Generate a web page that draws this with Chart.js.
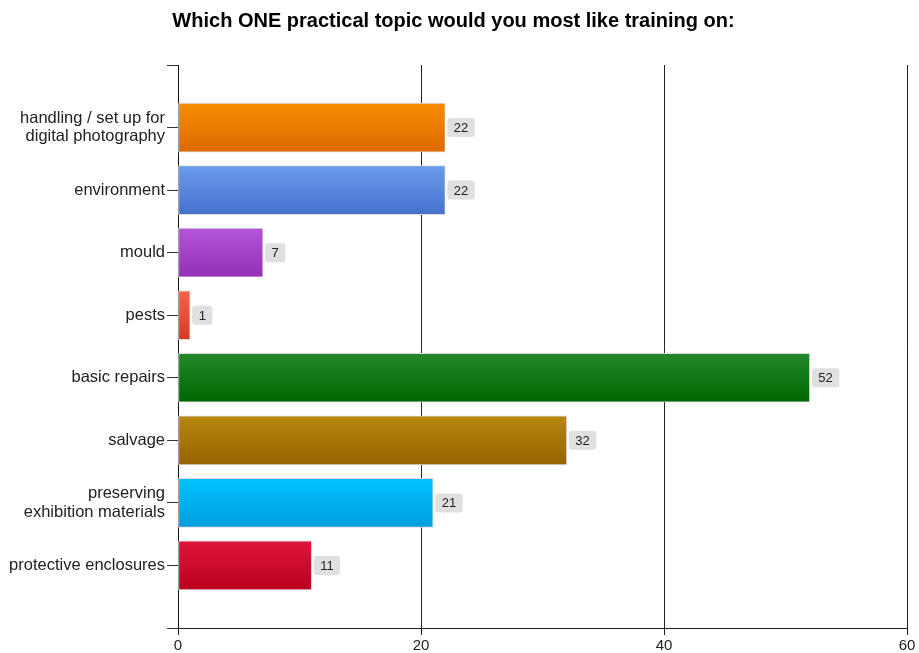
<!DOCTYPE html>
<html>
<head>
<meta charset="utf-8">
<script src="https://cdn.jsdelivr.net/npm/chart.js@4"></script>
<style>
  html, body { margin: 0; padding: 0; background: #fff; }
  #wrap { width: 919px; height: 653px; }
</style>
</head>
<body>
<div id="wrap"><canvas id="chart" width="919" height="653"></canvas></div>
<script>
// blank first/last labels give the empty gap above and below the bars
const topics = [
  '',
  ['handling / set up for', 'digital photography'],
  'environment',
  'mould',
  'pests',
  'basic repairs',
  'salvage',
  ['preserving', 'exhibition materials'],
  'protective enclosures',
  ''
];
const responses = [null, 22, 22, 7, 1, 52, 32, 21, 11, null];
const xTicks = [0, 20, 40, 60];

// top / bottom gradient stops per bar
const topColors = [null, '#f88c00', '#6b9cec', '#b455d8', '#f96249', '#23892a', '#b8880d', '#00c2ff', '#de163c', null];
const bottomColors = [null, '#de6900', '#4470cc', '#952fb4', '#da3823', '#006500', '#966200', '#009ede', '#bb001f', null];

const FONT = '"Liberation Sans", Arial, sans-serif';

const valueBoxes = {
  id: 'valueBoxes',
  afterDatasetsDraw(chart) {
    const ctx = chart.ctx;
    const meta = chart.getDatasetMeta(0);
    ctx.save();
    ctx.font = '13px ' + FONT;
    meta.data.forEach((bar, i) => {
      const v = responses[i];
      if (v === null) return;
      const txt = String(v);
      const w = ctx.measureText(txt).width + 13;
      const h = 19;
      const x = bar.x + 2;
      const y = bar.y - h / 2;
      ctx.fillStyle = '#e0e0e0';
      ctx.beginPath();
      ctx.roundRect(x, y, w, h, 3);
      ctx.fill();
      ctx.fillStyle = '#222';
      ctx.textAlign = 'center';
      ctx.textBaseline = 'middle';
      ctx.fillText(txt, x + w / 2, bar.y + 1);
    });
    ctx.restore();
  }
};

new Chart(document.getElementById('chart'), {
  type: 'bar',
  data: {
    labels: topics,
    datasets: [{
      data: responses,
      barThickness: 49,
      borderWidth: 1,
      borderColor: '#dcdcdc',
      borderSkipped: false,
      backgroundColor(c) {
        const chart = c.chart;
        const i = c.dataIndex;
        if (!chart.scales.y || !topColors[i]) return '#888';
        const yc = chart.scales.y.getPixelForValue(i);
        const g = chart.ctx.createLinearGradient(0, yc - 25, 0, yc + 25);
        g.addColorStop(0, topColors[i]);
        g.addColorStop(1, bottomColors[i]);
        return g;
      }
    }]
  },
  options: {
    indexAxis: 'y',
    responsive: false,
    animation: false,
    layout: { padding: { top: 0, right: 12, left: 0, bottom: 0 } },
    plugins: {
      legend: { display: false },
      tooltip: { enabled: false },
      title: {
        display: true,
        text: 'Which ONE practical topic would you most like training on:',
        color: '#000',
        font: { family: FONT, size: 20, weight: 'bold', lineHeight: 1.2 },
        padding: { top: 9, bottom: 32 }
      }
    },
    scales: {
      x: {
        min: 0,
        max: 60,
        afterBuildTicks(scale) {
          scale.ticks = xTicks.map(v => ({ value: v }));
        },
        afterFit(scale) { scale.height = 25; },
        grid: { color: '#222', lineWidth: 1, tickLength: 7, drawOnChartArea: true },
        border: { display: true, color: '#222', width: 1 },
        ticks: { color: '#222', font: { family: FONT, size: 15 }, padding: 2, maxRotation: 0 }
      },
      y: {
        offset: false,
        afterFit(scale) { scale.width = 178; },
        grid: { offset: false, drawOnChartArea: false, color: '#333', tickLength: 11 },
        border: { display: true, color: '#111', width: 1 },
        ticks: { color: '#222', font: { family: FONT, size: 16.5, lineHeight: 1.1 }, padding: 2, autoSkip: false }
      }
    }
  },
  plugins: [valueBoxes]
});
</script>
</body>
</html>
